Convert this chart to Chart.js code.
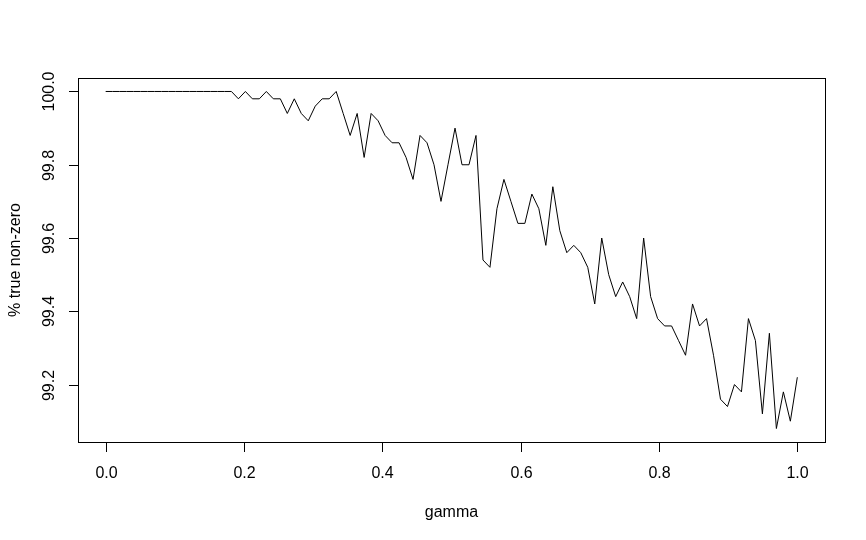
<!DOCTYPE html>
<html>
<head>
<meta charset="utf-8">
<script src="https://cdn.jsdelivr.net/npm/chart.js@4"></script>
<style>
  html, body { margin: 0; padding: 0; background: #fff; }
  canvas { display: block; }
</style>
</head>
<body>
<canvas id="grafico" width="866" height="540"></canvas>
<script>
const gamma = [
  0, 0.0101, 0.0202, 0.0303, 0.0404, 0.0505, 0.0606, 0.0707, 0.0808, 0.0909,
  0.1010, 0.1111, 0.1212, 0.1313, 0.1414, 0.1515, 0.1616, 0.1717, 0.1818, 0.1919,
  0.2020, 0.2121, 0.2222, 0.2323, 0.2424, 0.2525, 0.2626, 0.2727, 0.2828, 0.2929,
  0.3030, 0.3131, 0.3232, 0.3333, 0.3434, 0.3535, 0.3636, 0.3737, 0.3838, 0.3939,
  0.4040, 0.4141, 0.4242, 0.4343, 0.4444, 0.4545, 0.4646, 0.4747, 0.4848, 0.4949,
  0.5051, 0.5152, 0.5253, 0.5354, 0.5455, 0.5556, 0.5657, 0.5758, 0.5859, 0.5960,
  0.6061, 0.6162, 0.6263, 0.6364, 0.6465, 0.6566, 0.6667, 0.6768, 0.6869, 0.6970,
  0.7071, 0.7172, 0.7273, 0.7374, 0.7475, 0.7576, 0.7677, 0.7778, 0.7879, 0.7980,
  0.8081, 0.8182, 0.8283, 0.8384, 0.8485, 0.8586, 0.8687, 0.8788, 0.8889, 0.8990,
  0.9091, 0.9192, 0.9293, 0.9394, 0.9495, 0.9596, 0.9697, 0.9798, 0.9899, 1
];

const pctTrueNonZero = [
  100, 100, 100, 100, 100, 100, 100, 100, 100, 100,
  100, 100, 100, 100, 100, 100, 100, 100, 100, 99.98,
  100, 99.98, 99.98, 100, 99.98, 99.98, 99.94, 99.98, 99.94, 99.92,
  99.96, 99.98, 99.98, 100, 99.94, 99.88, 99.94, 99.82, 99.94, 99.92,
  99.88, 99.86, 99.86, 99.82, 99.76, 99.88, 99.86, 99.80, 99.70, 99.80,
  99.90, 99.80, 99.80, 99.88, 99.54, 99.52, 99.68, 99.76, 99.70, 99.64,
  99.64, 99.72, 99.68, 99.58, 99.74, 99.62, 99.56, 99.58, 99.56, 99.52,
  99.42, 99.60, 99.50, 99.44, 99.48, 99.44, 99.38, 99.60, 99.44, 99.38,
  99.36, 99.36, 99.32, 99.28, 99.42, 99.36, 99.38, 99.28, 99.16, 99.14,
  99.20, 99.18, 99.38, 99.32, 99.12, 99.34, 99.08, 99.18, 99.10, 99.22
];

const xTicks = [0, 0.2, 0.4, 0.6, 0.8, 1.0];
const yTicks = [99.2, 99.4, 99.6, 99.8, 100.0];
const xTitulo = 'gamma';
const yTitulo = '% true non-zero';

const FUENTE = '16px "Liberation Sans", Arial, sans-serif';

// ejes estilo R: caja, marcas y etiquetas
const ejesR = {
  id: 'ejesR',
  afterDraw(chart) {
    const c = chart.ctx;
    const a = chart.chartArea;
    const sx = chart.scales.x;
    const sy = chart.scales.y;
    c.save();
    c.strokeStyle = '#000';
    c.fillStyle = '#000';
    c.lineWidth = 1;
    c.font = FUENTE;

    c.strokeRect(a.left + 0.5, a.top + 0.5, a.right - a.left, a.bottom - a.top);

    // eje x
    c.textAlign = 'center';
    c.textBaseline = 'alphabetic';
    xTicks.forEach(t => {
      const px = Math.round(sx.getPixelForValue(t)) + 0.5;
      c.beginPath();
      c.moveTo(px, a.bottom + 0.5);
      c.lineTo(px, a.bottom + 10);
      c.stroke();
      c.fillText(t.toFixed(1), px, 477.5);
    });

    // eje y
    yTicks.forEach(t => {
      const py = Math.round(sy.getPixelForValue(t)) + 0.5;
      c.beginPath();
      c.moveTo(a.left + 0.5, py);
      c.lineTo(a.left - 9, py);
      c.stroke();
      c.save();
      c.translate(53.5, py);
      c.rotate(-Math.PI / 2);
      c.fillText(t.toFixed(1), 0, 0);
      c.restore();
    });

    // titulos
    c.fillText(xTitulo, (a.left + a.right) / 2, 517);
    c.save();
    c.translate(20, (a.top + a.bottom) / 2);
    c.rotate(-Math.PI / 2);
    c.fillText(yTitulo, 0, 0);
    c.restore();

    c.restore();
  }
};

const ctx = document.getElementById('grafico');

new Chart(ctx, {
  type: 'line',
  data: {
    datasets: [{
      data: gamma.map((g, i) => ({ x: g, y: pctTrueNonZero[i] })),
      borderColor: '#000',
      borderWidth: 1,
      pointRadius: 0,
      tension: 0,
      fill: false
    }]
  },
  options: {
    responsive: false,
    animation: false,
    layout: { padding: { left: 78, right: 41, top: 78, bottom: 98 } },
    plugins: { legend: { display: false }, tooltip: { enabled: false } },
    scales: {
      x: { type: 'linear', min: -0.04, max: 1.04, display: false },
      y: { type: 'linear', min: 99.0432, max: 100.0368, display: false }
    }
  },
  plugins: [ejesR]
});
</script>
</body>
</html>
